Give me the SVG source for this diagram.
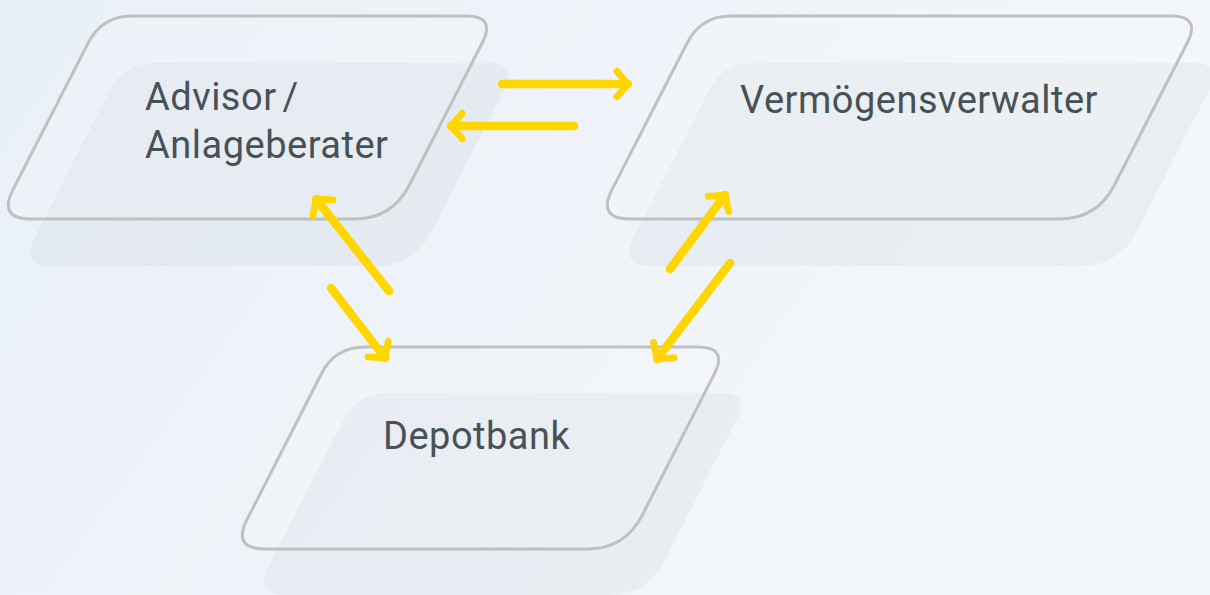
<svg xmlns="http://www.w3.org/2000/svg" width="1210" height="595" viewBox="0 0 1210 595">
  <defs>
    <linearGradient id="bg" x1="0" y1="0" x2="1" y2="0.35">
      <stop offset="0" stop-color="#eaf0f8"/>
      <stop offset="1" stop-color="#f4f7fa"/>
    </linearGradient>
    <marker id="chev" markerUnits="userSpaceOnUse" markerWidth="40" markerHeight="40" viewBox="-25 -25 40 50" refX="0" refY="0" orient="auto" overflow="visible">
      <path d="M -14 -16 L 0 0 L -14 16" fill="none" stroke="#ffd600" stroke-width="8.5" stroke-linecap="round" stroke-linejoin="round"/>
    </marker>
    <style>
      .shadow { fill: #9aa6b8; fill-opacity: 0.1; }
      .outline { fill: #ffffff; fill-opacity: 0.12; stroke: #c0c0c0; stroke-width: 3; }
      .label { font-family: Roboto, "Liberation Sans", sans-serif; font-size: 38px; letter-spacing: 0.5px; fill: #485256; }
      .conn { fill: none; stroke: #ffd600; stroke-width: 8.5; stroke-linecap: round; marker-end: url(#chev); }
    </style>
  </defs>
  <rect x="0" y="0" width="1210" height="595" fill="url(#bg)"/>

  <g id="node-advisor">
    <path class="shadow" transform="translate(22,47)" d="M 132 16 L 466 16 Q 496 16 482.3 42.7 L 409.3 185.2 Q 392 219 354 219 L 31 219 Q -2 219 13 189.6 L 88.3 42.7 Q 102 16 132 16 Z"/>
    <path class="outline" d="M 132 16 L 466 16 Q 496 16 482.3 42.7 L 409.3 185.2 Q 392 219 354 219 L 31 219 Q -2 219 13 189.6 L 88.3 42.7 Q 102 16 132 16 Z"/>
    <text class="label" x="145" y="110" word-spacing="-4">Advisor /</text>
    <text class="label" x="145" y="158">Anlageberater</text>
  </g>

  <g id="node-vermoegensverwalter">
    <path class="shadow" transform="translate(22,47)" d="M 731 16 L 1171 16 Q 1201 16 1187.3 42.7 L 1114.3 185.2 Q 1097 219 1059 219 L 630 219 Q 597 219 612 189.6 L 687.3 42.7 Q 701 16 731 16 Z"/>
    <path class="outline" d="M 731 16 L 1171 16 Q 1201 16 1187.3 42.7 L 1114.3 185.2 Q 1097 219 1059 219 L 630 219 Q 597 219 612 189.6 L 687.3 42.7 Q 701 16 731 16 Z"/>
    <text class="label" x="740" y="113">Vermögensverwalter</text>
  </g>

  <g id="node-depotbank">
    <path class="shadow" transform="translate(22,46)" d="M 365 347 L 698 347 Q 728 347 714.4 373.7 L 642.3 515.1 Q 625 549 587 549 L 265 549 Q 232 549 247 519.6 L 321.4 373.7 Q 335 347 365 347 Z"/>
    <path class="outline" d="M 365 347 L 698 347 Q 728 347 714.4 373.7 L 642.3 515.1 Q 625 549 587 549 L 265 549 Q 232 549 247 519.6 L 321.4 373.7 Q 335 347 365 347 Z"/>
    <text class="label" x="383" y="449">Depotbank</text>
  </g>

  <g id="connectors">
    <path class="conn" d="M 502 84 L 628 84"/>
    <path class="conn" d="M 574 126 L 451 126"/>
    <path class="conn" d="M 389 291 L 316 199"/>
    <path class="conn" d="M 331 288 L 385 358"/>
    <path class="conn" d="M 670 269 L 725 195"/>
    <path class="conn" d="M 730 263 L 657 359"/>
  </g>
</svg>
